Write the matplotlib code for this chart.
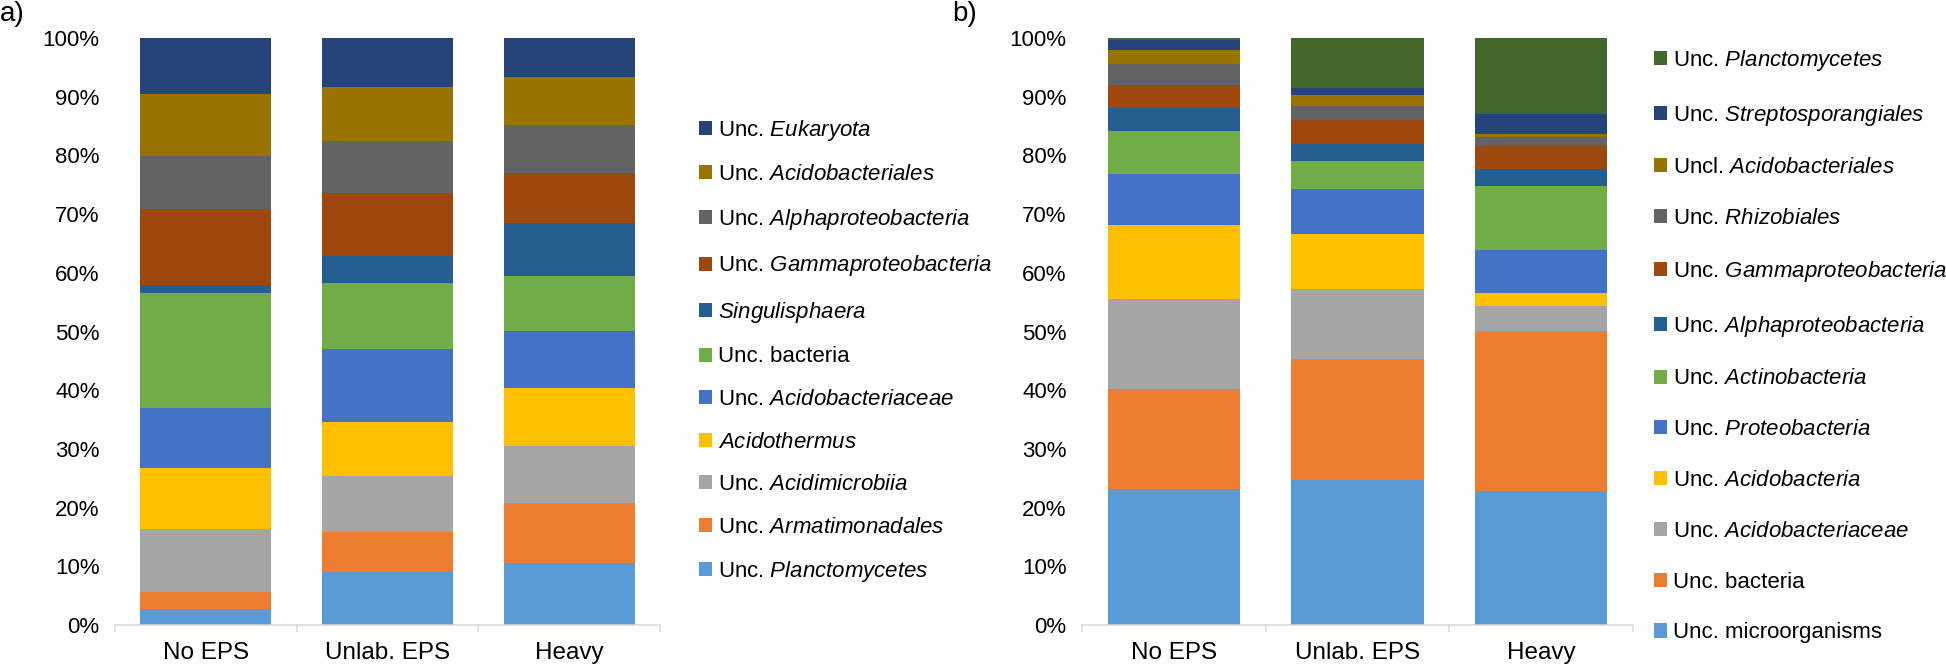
import numpy as np
import matplotlib.pyplot as plt
from matplotlib.patches import Patch

plt.rcParams['font.family'] = ['Liberation Sans', 'DejaVu Sans']
plt.rcParams['mathtext.fontset'] = 'custom'
plt.rcParams['mathtext.rm'] = 'Liberation Sans'
plt.rcParams['mathtext.it'] = 'Liberation Sans:italic'

categories = ['No EPS', 'Unlab. EPS', 'Heavy']

# panel a) - series from bottom to top, values in % for No EPS, Unlab. EPS, Heavy
names_a = ['Unc. $\\mathit{Planctomycetes}$', 'Unc. $\\mathit{Armatimonadales}$',
           'Unc. $\\mathit{Acidimicrobiia}$', '$\\mathit{Acidothermus}$',
           'Unc. $\\mathit{Acidobacteriaceae}$', 'Unc. bacteria',
           '$\\mathit{Singulisphaera}$', 'Unc. $\\mathit{Gammaproteobacteria}$',
           'Unc. $\\mathit{Alphaproteobacteria}$', 'Unc. $\\mathit{Acidobacteriales}$',
           'Unc. $\\mathit{Eukaryota}$']
values_a = [
    [2.7, 9.1, 10.5],
    [2.9, 6.7, 10.2],
    [10.75, 9.6, 9.8],
    [10.45, 9.2, 9.8],
    [10.1, 12.5, 9.8],
    [19.7, 11.2, 9.35],
    [1.3, 4.6, 8.95],
    [13.0, 10.7, 8.55],
    [9.05, 8.8, 8.15],
    [10.45, 9.3, 8.25],
    [9.6, 8.3, 6.65],
]
colors_a = ['#5B9BD5', '#ED7D31', '#A5A5A5', '#FFC000', '#4472C4', '#70AD47',
            '#255E91', '#9E480E', '#636363', '#997300', '#264478']

# panel b)
names_b = ['Unc. microorganisms', 'Unc. bacteria', 'Unc. $\\mathit{Acidobacteriaceae}$',
           'Unc. $\\mathit{Acidobacteria}$', 'Unc. $\\mathit{Proteobacteria}$',
           'Unc. $\\mathit{Actinobacteria}$', 'Unc. $\\mathit{Alphaproteobacteria}$',
           'Unc. $\\mathit{Gammaproteobacteria}$', 'Unc. $\\mathit{Rhizobiales}$',
           'Uncl. $\\mathit{Acidobacteriales}$', 'Unc. $\\mathit{Streptosporangiales}$',
           'Unc. $\\mathit{Planctomycetes}$']
values_b = [
    [23.1, 24.7, 22.9],
    [17.05, 20.55, 27.2],
    [15.35, 11.95, 4.2],
    [12.6, 9.35, 2.3],
    [8.8, 7.75, 7.2],
    [7.2, 4.7, 11.0],
    [4.0, 2.9, 2.9],
    [3.9, 4.1, 3.95],
    [3.6, 2.5, 1.45],
    [2.4, 1.85, 0.5],
    [1.65, 1.05, 3.4],
    [0.35, 8.6, 13.0],
]
colors_b = ['#5B9BD5', '#ED7D31', '#A5A5A5', '#FFC000', '#4472C4', '#70AD47',
            '#255E91', '#9E480E', '#636363', '#997300', '#264478', '#43682B']

fig = plt.figure(figsize=(19.46, 6.68), dpi=100)
W, H = 1946, 668
ax_a = fig.add_axes([115 / W, 43 / H, 545 / W, 587 / H])
ax_b = fig.add_axes([1082 / W, 43 / H, 551 / W, 587 / H])


def draw(ax, names, values, colors):
    x = np.arange(len(categories))
    bottom = np.zeros(len(categories))
    for name, vals, col in zip(names, values, colors):
        v = np.array(vals) / 100
        ax.bar(x, v, 0.72, bottom=bottom, color=col, label=name)
        bottom += v
    ax.set_xlim(-0.5, 2.5)
    ax.set_ylim(0, 1)
    ax.set_yticks(np.arange(0, 1.01, 0.1))
    ax.set_yticklabels([f'{int(round(t * 100))}%' for t in np.arange(0, 1.01, 0.1)])
    ax.set_xticks(x)
    ax.set_xticklabels(categories)
    ax.set_xticks([-0.5, 0.5, 1.5, 2.5], minor=True)
    ax.tick_params(axis='y', length=0, pad=11, labelsize=16)
    ax.tick_params(axis='x', which='major', length=0, pad=12, labelsize=17.5)
    ax.tick_params(axis='x', which='minor', length=5, width=1.1, color='#D9D9D9')
    for s in ['top', 'right', 'left']:
        ax.spines[s].set_visible(False)
    ax.spines['bottom'].set_color('#D9D9D9')
    ax.spines['bottom'].set_linewidth(1.1)


draw(ax_a, names_a, values_a, colors_a)
draw(ax_b, names_b, values_b, colors_b)

for ax, names, colors, anchor, spacing in [
        (ax_a, names_a, colors_a, (699 / W, 1 - 351 / H), 0.97),
        (ax_b, names_b, colors_b, (1654 / W, 1 - 345.5 / H), 1.34)]:
    handles = [Patch(facecolor=c, label=n) for n, c in zip(names, colors)][::-1]
    fig.legend(handles=handles, loc='center left', bbox_to_anchor=anchor,
               bbox_transform=fig.transFigure, frameon=False, fontsize=16,
               handlelength=0.6, handleheight=0.6, handletextpad=0.26,
               labelspacing=spacing, borderpad=0, borderaxespad=0)

fig.text(0.0, 1 - 1 / H, 'a)', fontsize=20, va='top', ha='left')
fig.text(952 / W, 1 - 1 / H, 'b)', fontsize=20, va='top', ha='left')

fig.savefig('out.png', dpi=100)
